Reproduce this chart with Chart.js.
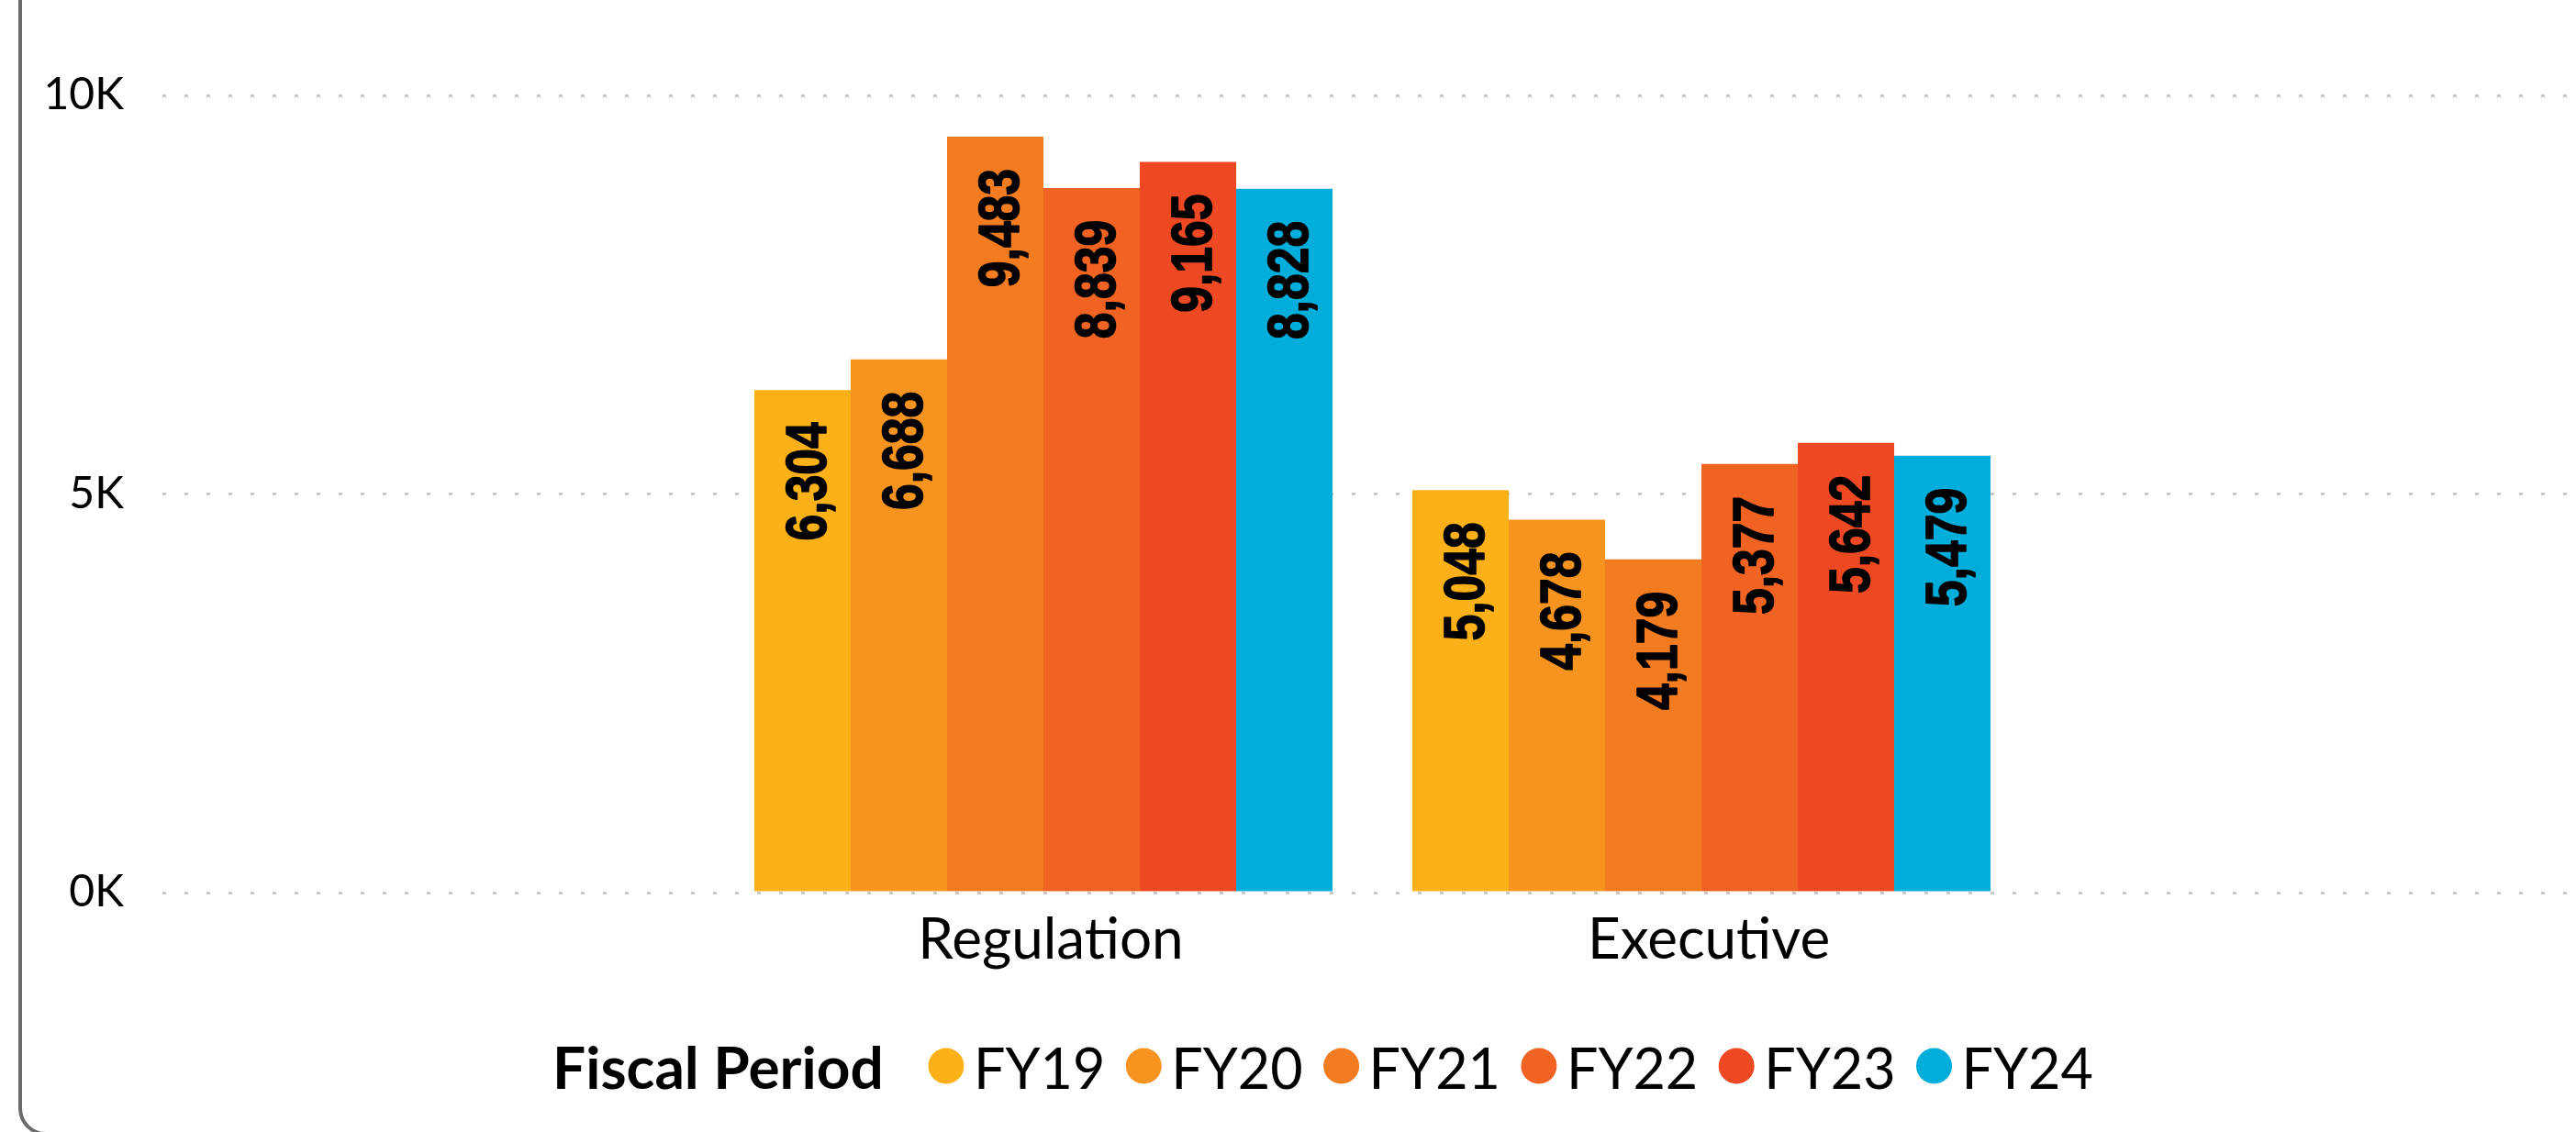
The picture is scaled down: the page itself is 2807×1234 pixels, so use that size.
<!DOCTYPE html>
<html>
<head>
<meta charset="utf-8">
<script src="https://cdn.jsdelivr.net/npm/chart.js@4.4.1/dist/chart.umd.min.js"></script>
<style>
  html, body { margin: 0; padding: 0; background: #ffffff; overflow: hidden; }
  #frame { position: absolute; left: 20px; top: -40px; width: 2900px; height: 1278px;
           border: 4px solid #6b6b6b; border-radius: 30px; box-sizing: border-box; pointer-events: none; }
  #wrap { position: absolute; left: 0; top: 0; width: 2807px; height: 1234px; }
</style>
</head>
<body>
<div id="frame"></div>
<div id="wrap"><canvas id="chart"></canvas></div>
<script>
// ---- data ----
const categories = ['Regulation', 'Executive'];
const seriesNames = ['FY19', 'FY20', 'FY21', 'FY22', 'FY23', 'FY24'];
const FY19 = [6304, 5048];
const FY20 = [6688, 4678];
const FY21 = [9483, 4179];
const FY22 = [8839, 5377];
const FY23 = [9165, 5642];
const FY24 = [8828, 5479];
const seriesValues = [FY19, FY20, FY21, FY22, FY23, FY24];
const seriesColors = ['#FBB117', '#F7941F', '#F37B20', '#F06322', '#EE4923', '#00ADDB'];
const yTicks = [0, 5000, 10000];
const yTickLabels = ['0K', '5K', '10K'];
const legendTitle = 'Fiscal Period';

// ---- datasets built from the arrays ----
const datasets = seriesNames.map((name, s) => ({
  label: name,
  data: seriesValues[s].map((v, i) => ({ x: i + 1, y: v })),
  backgroundColor: seriesColors[s],
  borderWidth: 0
}));

const valueLabels = {
  id: 'valueLabels',
  afterDatasetsDraw(chart) {
    const ctx = chart.ctx;
    chart.data.datasets.forEach((ds, di) => {
      const meta = chart.getDatasetMeta(di);
      meta.data.forEach((bar, i) => {
        const txt = ds.data[i].y.toLocaleString('en-US');
        ctx.save();
        ctx.translate(bar.x + 25.5, bar.y + 35);
        ctx.rotate(-Math.PI / 2);
        ctx.scale(0.82, 1);
        ctx.font = 'bold 63px "Liberation Sans", Arial, sans-serif';
        ctx.fillStyle = '#000000';
        ctx.strokeStyle = '#000000';
        ctx.lineWidth = 1.6;
        ctx.lineJoin = 'round';
        ctx.textAlign = 'right';
        ctx.textBaseline = 'alphabetic';
        ctx.fillText(txt, 0, 0);
        ctx.strokeText(txt, 0, 0);
        ctx.restore();
      });
    });
  }
};

const inlineLegend = {
  id: 'inlineLegend',
  afterDraw(chart) {
    const ctx = chart.ctx;
    const baseY = 1187;
    ctx.save();
    ctx.fillStyle = '#000000';
    ctx.textAlign = 'left';
    ctx.textBaseline = 'alphabetic';
    ctx.font = 'bold 64px Lato, sans-serif';
    ctx.fillText(legendTitle, 602, baseY);
    ctx.font = '61px Lato, sans-serif';
    chart.data.datasets.forEach((ds, i) => {
      const cx = 1031 + i * 215.3;
      ctx.beginPath();
      ctx.fillStyle = ds.backgroundColor;
      ctx.arc(cx, 1162, 19.5, 0, Math.PI * 2);
      ctx.fill();
      ctx.fillStyle = '#000000';
      ctx.fillText(ds.label, cx + 30, baseY);
    });
    ctx.restore();
  }
};

new Chart(document.getElementById('chart'), {
  type: 'bar',
  data: { datasets },
  plugins: [valueLabels, inlineLegend],
  options: {
    responsive: true,
    maintainAspectRatio: false,
    animation: false,
    layout: { padding: { left: 0, right: 0, top: 104, bottom: 141 } },
    plugins: { legend: { display: false }, tooltip: { enabled: false } },
    datasets: { bar: { categoryPercentage: 0.8787, barPercentage: 1.0 } },
    scales: {
      x: {
        type: 'linear',
        offset: false,
        min: -0.3389,
        max: 3.3291,
        afterBuildTicks: (s) => { s.ticks = categories.map((c, i) => ({ value: i + 1 })); },
        afterFit: (s) => { s.height = 120; },
        ticks: {
          callback: (v) => categories[v - 1] ?? '',
          font: { family: 'Lato', size: 62 },
          color: '#000000',
          padding: 15,
          labelOffset: 8,
          autoSkip: false,
          maxRotation: 0,
          minRotation: 0
        },
        grid: { display: false, drawTicks: false },
        border: { display: false }
      },
      y: {
        min: 0,
        max: 10000,
        afterBuildTicks: (s) => { s.ticks = yTicks.map(v => ({ value: v })); },
        afterFit: (s) => { s.width = 177; },
        ticks: {
          callback: (v) => yTickLabels[yTicks.indexOf(v)],
          font: { family: 'Lato', size: 48 },
          color: '#000000',
          padding: 42
        },
        grid: { color: '#c8c8c8', lineWidth: 3, drawTicks: false },
        border: { display: false, dash: [4, 20] }
      }
    }
  }
});
</script>
</body>
</html>
